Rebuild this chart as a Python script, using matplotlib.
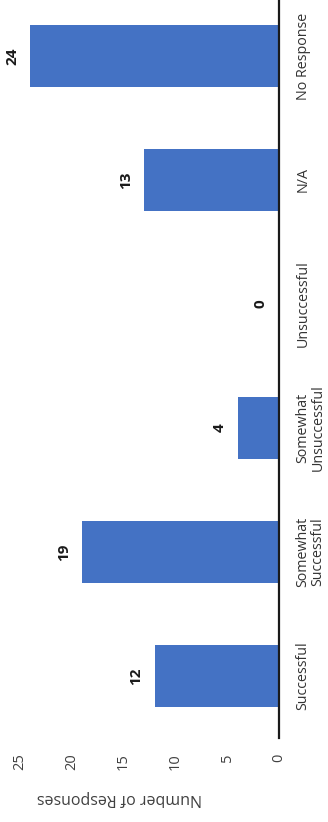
import matplotlib
matplotlib.use("Agg")
import matplotlib.pyplot as plt
import numpy as np

categories = ["Successful", "Somewhat\nSuccessful", "Somewhat\nUnsuccessful",
              "Unsuccessful", "N/A", "No Response"]
values = [12, 19, 4, 0, 13, 24]
value_ticks = [0, 5, 10, 15, 20, 25]
axis_title = "Number of Responses"

plt.rcParams['font.family'] = ['Open Sans', 'DejaVu Sans']

W, H = 328, 822
fig = plt.figure(figsize=(W / 100, H / 100), dpi=100)
ax = fig.add_axes([20 / W, 84 / H, 259 / W, 744 / H])

pos = np.arange(len(categories))
ax.barh(pos, values, height=0.5, color='#4472C4')
ax.set_xlim(25, 0)
ax.set_ylim(-0.5, len(categories) - 0.5)

for s in ['top', 'left', 'bottom']:
    ax.spines[s].set_visible(False)
ax.spines['right'].set_color('#1a1a1a')
ax.spines['right'].set_linewidth(1.6)

ax.yaxis.tick_right()
ax.set_yticks(pos)
ax.set_yticklabels(categories, rotation=90, va='center', ha='left',
                   multialignment='center', fontsize=10.3, color='#333333',
                   linespacing=1.0)
ax.tick_params(axis='y', length=0, pad=12)

ax.set_xticks(value_ticks)
ax.set_xticklabels([str(t) for t in value_ticks], rotation=90,
                   fontsize=10.5, color='#404040')
ax.tick_params(axis='x', length=0, pad=11)

for i, v in enumerate(values):
    ax.annotate(str(v), xy=(v, i), xytext=(-8, 0), textcoords='offset points',
                ha='right', va='center', rotation=90, fontsize=11,
                fontweight='bold', color='#1a1a1a')

fig.text(119 / W, 1 - 798 / H, axis_title, rotation=180, ha='center',
         va='center', fontsize=11.5, color='#404040')

fig.savefig('out.png', dpi=100)
